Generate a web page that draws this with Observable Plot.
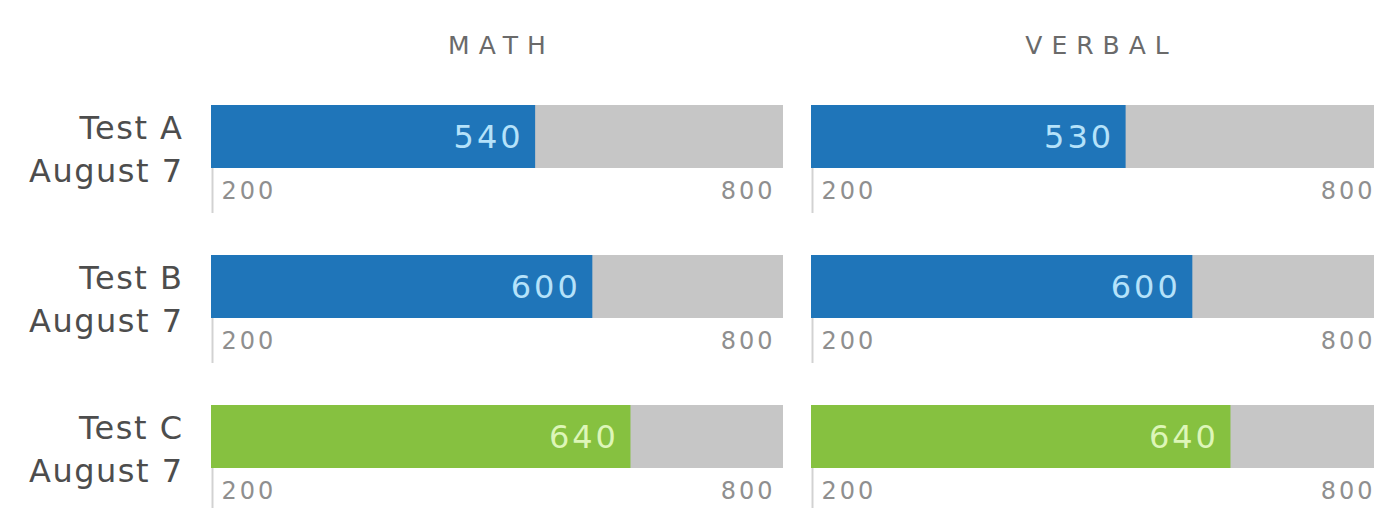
<!DOCTYPE html>
<html>
<head>
<meta charset="utf-8">
<script src="https://cdn.jsdelivr.net/npm/d3@7"></script>
<script src="https://cdn.jsdelivr.net/npm/@observablehq/plot@0.6"></script>
<style>
  html, body { margin: 0; padding: 0; background: #fff; overflow: hidden; }
  #chart svg { overflow: hidden; }
  [aria-label="fx-axis tick label"] text { letter-spacing: 9px; }
  [aria-label="y-axis tick label"] text { letter-spacing: 1.5px; }
  .score text { letter-spacing: 3px; }
  .range text { letter-spacing: 3px; }
</style>
</head>
<body>
<div id="chart"></div>
<script>
// ---- data ----
const subjects = ["MATH", "VERBAL"];
const tests = ["Test A", "Test B", "Test C"];
const testDates = ["August 7", "August 7", "August 7"];
const mathScores = [540, 600, 640];
const verbalScores = [530, 600, 640];
const scaleMin = 200;
const scaleMax = 800;

const scoresBySubject = { MATH: mathScores, VERBAL: verbalScores };
const rows = subjects.flatMap(s => tests.map((t, i) => ({ subject: s, test: t, date: testDates[i], score: scoresBySubject[s][i] })));
const dateOf = Object.fromEntries(tests.map((t, i) => [t, testDates[i]]));

const chart = Plot.plot({
  width: 1374,
  height: 508,
  marginLeft: 211,
  marginRight: -9,
  marginTop: 105,
  marginBottom: 40,
  style: { fontFamily: "'DejaVu Sans', sans-serif", background: "#fff" },
  fx: { domain: subjects, paddingInner: 28 / 600, paddingOuter: 0, label: null },
  y: { domain: tests, paddingInner: 87 / 150, paddingOuter: 0, label: null },
  x: { domain: [scaleMin, scaleMax], axis: null },
  color: { domain: tests, range: ["#1f75b9", "#1f75b9", "#86c140"] },
  marks: [
    Plot.ruleX(rows, { x: scaleMin, y1: "test", y2: "test", fx: "subject", dx: 1, dy: 45, stroke: "#d2d2d2", strokeWidth: 2 }),
    Plot.barX(rows, { x1: scaleMin, x2: scaleMax, y: "test", fx: "subject", fill: "#c6c6c6" }),
    Plot.barX(rows, { x1: scaleMin, x2: "score", y: "test", fx: "subject", fill: "test" }),
    Plot.text(rows.filter(d => d.test !== "Test C"), {
      x: "score", y: "test", fx: "subject", text: d => String(d.score),
      textAnchor: "end", dx: -12, dy: 1, fontSize: 32, fill: "#b5e2fa", className: "score"
    }),
    Plot.text(rows.filter(d => d.test === "Test C"), {
      x: "score", y: "test", fx: "subject", text: d => String(d.score),
      textAnchor: "end", dx: -12, dy: 1, fontSize: 32, fill: "#ddf6b8", className: "score"
    }),
    Plot.text(rows, { x: scaleMin, y: "test", fx: "subject", text: () => String(scaleMin),
      textAnchor: "start", dx: 10, dy: 54, fontSize: 24, fill: "#8f8f8f", className: "range" }),
    Plot.text(rows, { x: scaleMax, y: "test", fx: "subject", text: () => String(scaleMax),
      textAnchor: "end", dx: -8, dy: 54, fontSize: 24, fill: "#8f8f8f", className: "range" }),
    Plot.axisY({ tickSize: 0, tickPadding: 28, fontSize: 32, fill: "#4d4d4d", dy: 10, lineHeight: 1.33,
      tickFormat: t => t + "\n" + dateOf[t], label: null }),
    Plot.axisFx({ anchor: "top", tickSize: 0, tickPadding: 52, fontSize: 25, fill: "#6a6a6a", dx: 4, label: null })
  ]
});
document.getElementById("chart").appendChild(chart);
</script>
</body>
</html>
